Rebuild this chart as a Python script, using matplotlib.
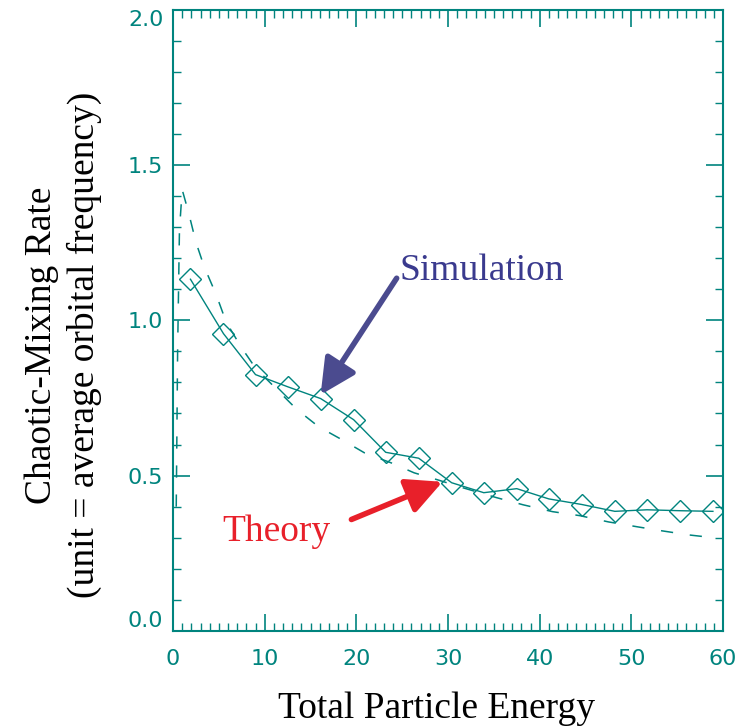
import numpy as np
import matplotlib.pyplot as plt
from matplotlib.ticker import MultipleLocator

# simulation points (energy, mixing rate)
sim_energy = [1.9, 5.5, 9.0, 12.5, 16.1, 19.7, 23.2, 26.8, 30.4, 33.9,
              37.5, 41.0, 44.6, 48.2, 51.7, 55.3, 58.9]
sim_rate = [1.132, 0.957, 0.825, 0.786, 0.748, 0.680, 0.575, 0.556, 0.477,
            0.445, 0.458, 0.425, 0.407, 0.385, 0.390, 0.387, 0.385]

# theory curve (dashed)
theory_energy = [0.35, 0.5, 0.7, 1.0, 1.7, 2.5, 3.4, 4.7, 5.8, 7.4, 9.0,
                 11.0, 13.5, 15.9, 18.4, 20.9, 23.8, 26.3, 28.8, 31.6,
                 35.3, 38.2, 41.4, 44.4, 47.5, 50.7, 53.4, 56.3, 59.3]
theory_rate = [0.40, 0.90, 1.29, 1.42, 1.346, 1.251, 1.172, 1.083, 0.994,
               0.915, 0.846, 0.787, 0.713, 0.657, 0.616, 0.573, 0.541,
               0.509, 0.487, 0.461, 0.429, 0.406, 0.384, 0.371, 0.351,
               0.335, 0.322, 0.309, 0.299]

teal = '#00847e'

fig = plt.figure(figsize=(7.42, 7.26), dpi=100)
ax = fig.add_axes([0.2332, 0.1309, 0.7412, 0.856])

ax.plot(theory_energy, theory_rate, color=teal, lw=1.1, ls=(0, (8, 11)))
ax.plot(sim_energy, sim_rate, color=teal, lw=1.0, marker='D', ms=11,
        mfc='none', mec=teal, mew=1.0)

ax.set_xlim(0, 60)
ax.set_ylim(0, 2.0)
ax.xaxis.set_major_locator(MultipleLocator(10))
ax.xaxis.set_minor_locator(MultipleLocator(1))
ax.yaxis.set_major_locator(MultipleLocator(0.5))
ax.yaxis.set_minor_locator(MultipleLocator(0.1))
ax.yaxis.set_major_formatter(plt.FormatStrFormatter('%.1f'))
ax.tick_params(which='both', direction='in', top=True, right=True,
               color=teal, labelcolor=teal, labelsize=16)
ax.tick_params(axis='x', pad=13)
ax.tick_params(axis='y', pad=7)
ax.tick_params(which='major', length=12, width=1.2)
ax.tick_params(which='minor', length=6, width=1.0)
for s in ax.spines.values():
    s.set_color(teal)
    s.set_linewidth(1.5)

ax.set_xlabel('Total Particle Energy', family='Liberation Serif',
              fontsize=27, va='top')
ax.xaxis.set_label_coords(0.479, -0.098)
ax.set_ylabel('Chaotic-Mixing Rate\n(unit = average orbital frequency)',
              family='Liberation Serif', fontsize=27, linespacing=1.25)
ax.yaxis.set_label_coords(-0.13, 0.46)

# annotations
ax.annotate('Simulation', xy=(16.1, 0.76), xytext=(24.7, 1.16),
            fontsize=27, family='Liberation Serif', color='#3a3a8e',
            va='center', ha='left',
            arrowprops=dict(arrowstyle='-|>,head_length=0.8,head_width=0.4',
                            color='#4b4b8f', lw=4, shrinkA=0, shrinkB=0,
                            relpos=(0, 0.4)))
ax.annotate('Theory', xy=(29.4, 0.48), xytext=(5.4, 0.32),
            fontsize=27, family='Liberation Serif', color='#e8202a',
            va='center', ha='left',
            arrowprops=dict(arrowstyle='-|>,head_length=0.8,head_width=0.4',
                            color='#e8202a', lw=4, shrinkA=14, shrinkB=0,
                            relpos=(1, 0.6)))

# the end labels of the y axis sit just inside the frame, as in the original
fig.canvas.draw()
for tick in ax.yaxis.get_major_ticks():
    loc = tick.get_loc()
    if abs(loc - 0.0) < 1e-6:
        tick.label1.set_va('bottom')
    elif abs(loc - 2.0) < 1e-6:
        tick.label1.set_va('top')

fig.savefig('out.png', dpi=100)
